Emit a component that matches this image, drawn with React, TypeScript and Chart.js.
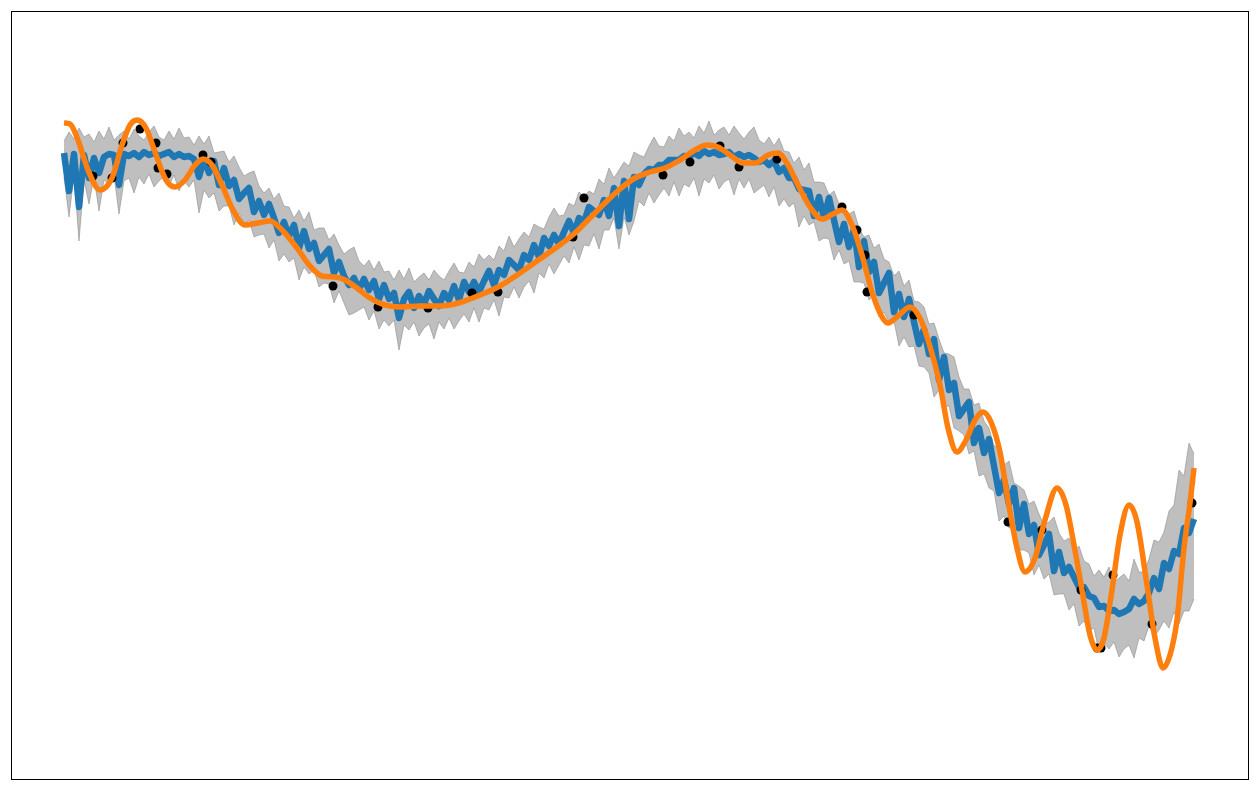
import React, { useEffect, useRef } from "react";
import { Chart, registerables } from "chart.js";

Chart.register(...registerables);

// sample grid of the posterior mean / band
const gridStart = 0;
const gridStep = 0.05;

const meanY = [
  2.47, 2.09, 2.46, 1.93, 2.45, 2.22, 2.42, 2.27, 2.43, 2.46,
  2.45, 2.15, 2.46, 2.44, 2.47, 2.43, 2.48, 2.45, 2.47, 2.44,
  2.46, 2.48, 2.43, 2.46, 2.43, 2.44, 2.41, 2.23, 2.41, 2.27,
  2.39, 2.15, 2.32, 2.14, 2.20, 2.01, 2.07, 2.12, 1.88, 1.99,
  1.85, 1.96, 1.82, 1.67, 1.78, 1.64, 1.75, 1.52, 1.69, 1.51,
  1.57, 1.39, 1.45, 1.51, 1.27, 1.38, 1.24, 1.15, 1.22, 1.11,
  1.21, 1.10, 1.19, 1.01, 1.15, 1.01, 1.07, 0.82, 1.01, 1.08,
  0.92, 1.04, 0.96, 1.09, 1.01, 0.94, 1.07, 1.00, 1.14, 1.00,
  1.18, 1.08, 1.18, 1.08, 1.19, 1.29, 1.15, 1.30, 1.25, 1.40,
  1.35, 1.30, 1.45, 1.40, 1.55, 1.43, 1.62, 1.54, 1.65, 1.56,
  1.68, 1.79, 1.67, 1.82, 1.78, 1.93, 1.89, 1.85, 2.00, 1.84,
  2.12, 1.74, 2.19, 1.81, 2.23, 2.15, 2.26, 2.31, 2.30, 2.35,
  2.35, 2.40, 2.40, 2.40, 2.44, 2.43, 2.47, 2.44, 2.49, 2.46,
  2.48, 2.45, 2.46, 2.48, 2.43, 2.46, 2.43, 2.45, 2.42, 2.38,
  2.40, 2.35, 2.39, 2.28, 2.32, 2.22, 2.22, 2.11, 2.10, 2.09,
  1.84, 2.03, 1.82, 2.02, 1.80, 1.58, 1.76, 1.53, 1.71, 1.33,
  1.59, 1.28, 1.38, 1.07, 1.17, 1.27, 0.88, 1.06, 0.83, 1.01,
  0.78, 0.56, 0.71, 0.46, 0.61, 0.20, 0.43, 0.10, 0.17, -0.16,
  -0.09, -0.02, -0.43, -0.28, -0.53, -0.39, -0.66, -0.93, -0.80, -1.04,
  -0.88, -1.28, -1.04, -1.34, -1.25, -1.55, -1.45, -1.34, -1.71, -1.52,
  -1.73, -1.67, -1.77, -1.87, -1.87, -1.96, -1.98, -2.07, -2.06, -2.11,
  -2.10, -2.14, -2.12, -2.09, -1.99, -2.04, -2.01, -1.93, -1.78, -1.89,
  -1.63, -1.69, -1.51, -1.54, -1.28, -1.33, -1.19,
];

const bandUpper = [
  2.59, 2.68, 2.61, 2.72, 2.63, 2.66, 2.58, 2.69, 2.61, 2.73,
  2.60, 2.65, 2.69, 2.61, 2.71, 2.64, 2.60, 2.68, 2.74, 2.63,
  2.60, 2.69, 2.61, 2.72, 2.62, 2.63, 2.55, 2.64, 2.56, 2.64,
  2.47, 2.48, 2.49, 2.38, 2.44, 2.33, 2.24, 2.27, 2.29, 2.14,
  2.07, 2.12, 2.01, 2.07, 1.94, 1.93, 1.82, 1.90, 1.79, 1.88,
  1.70, 1.72, 1.72, 1.60, 1.66, 1.55, 1.46, 1.50, 1.53, 1.39,
  1.34, 1.40, 1.30, 1.39, 1.28, 1.29, 1.20, 1.30, 1.21, 1.32,
  1.18, 1.23, 1.27, 1.20, 1.30, 1.24, 1.20, 1.29, 1.37, 1.28,
  1.27, 1.38, 1.33, 1.46, 1.40, 1.45, 1.40, 1.54, 1.49, 1.64,
  1.53, 1.61, 1.68, 1.63, 1.76, 1.73, 1.71, 1.83, 1.92, 1.84,
  1.85, 1.97, 1.94, 2.08, 2.03, 2.09, 2.06, 2.21, 2.16, 2.32,
  2.22, 2.30, 2.38, 2.34, 2.48, 2.45, 2.43, 2.54, 2.63, 2.54,
  2.53, 2.64, 2.59, 2.72, 2.64, 2.68, 2.62, 2.74, 2.67, 2.79,
  2.65, 2.70, 2.73, 2.65, 2.74, 2.67, 2.61, 2.68, 2.73, 2.60,
  2.56, 2.63, 2.54, 2.62, 2.49, 2.48, 2.37, 2.43, 2.30, 2.37,
  2.18, 2.18, 2.17, 2.05, 2.09, 1.96, 1.85, 1.86, 1.89, 1.72,
  1.63, 1.65, 1.52, 1.56, 1.41, 1.38, 1.24, 1.29, 1.14, 1.20,
  0.99, 0.98, 0.93, 0.76, 0.77, 0.61, 0.47, 0.46, 0.43, 0.23,
  0.11, 0.11, -0.05, -0.03, -0.21, -0.28, -0.46, -0.46, -0.65, -0.61,
  -0.83, -0.86, -0.90, -1.04, -1.01, -1.14, -1.25, -1.22, -1.17, -1.33,
  -1.41, -1.38, -1.51, -1.46, -1.61, -1.64, -1.76, -1.70, -1.77, -1.67,
  -1.82, -1.78, -1.74, -1.81, -1.59, -1.72, -1.72, -1.59, -1.40, -1.42,
  -1.32, -1.11, -1.05, -0.70, -0.76, -0.43, -0.54,
];

const bandLower = [
  2.23, 1.83, 2.25, 1.59, 2.20, 1.96, 2.23, 1.89, 2.20, 2.16,
  2.25, 1.86, 2.19, 2.22, 2.07, 2.23, 2.16, 2.26, 2.13, 2.19,
  2.24, 2.14, 2.25, 2.09, 2.19, 2.13, 2.20, 1.87, 2.10, 2.02,
  2.07, 1.89, 1.94, 1.94, 1.75, 1.87, 1.75, 1.80, 1.63, 1.65,
  1.66, 1.52, 1.60, 1.39, 1.46, 1.38, 1.42, 1.20, 1.33, 1.26,
  1.30, 1.13, 1.17, 1.16, 0.97, 1.09, 0.97, 0.85, 0.87, 0.90,
  0.93, 0.80, 0.89, 0.71, 0.80, 0.74, 0.80, 0.50, 0.75, 0.70,
  0.78, 0.64, 0.72, 0.76, 0.61, 0.78, 0.71, 0.82, 0.71, 0.79,
  0.86, 0.78, 0.92, 0.78, 0.92, 0.90, 1.00, 0.84, 1.03, 1.02,
  1.13, 1.02, 1.13, 1.19, 1.07, 1.27, 1.22, 1.36, 1.26, 1.35,
  1.44, 1.37, 1.53, 1.40, 1.55, 1.54, 1.66, 1.51, 1.70, 1.70,
  1.82, 1.51, 1.83, 1.65, 1.79, 1.99, 1.94, 2.07, 1.97, 2.05,
  2.12, 2.04, 2.18, 2.04, 2.16, 2.13, 2.22, 2.04, 2.21, 2.17,
  2.25, 2.11, 2.18, 2.21, 2.05, 2.21, 2.12, 2.21, 2.07, 2.11,
  2.15, 2.03, 2.13, 1.94, 2.01, 1.93, 1.97, 1.73, 1.84, 1.75,
  1.78, 1.59, 1.62, 1.61, 1.40, 1.50, 1.36, 1.39, 1.18, 1.18,
  1.17, 1.00, 1.06, 0.83, 0.88, 0.78, 0.79, 0.54, 0.63, 0.53,
  0.54, 0.34, 0.33, 0.27, 0.03, 0.10, -0.07, -0.06, -0.28, -0.31,
  -0.35, -0.54, -0.51, -0.76, -0.74, -0.88, -0.91, -1.21, -1.16, -1.28,
  -1.28, -1.50, -1.50, -1.53, -1.75, -1.65, -1.79, -1.74, -1.95, -1.94,
  -1.94, -2.10, -2.04, -2.26, -2.21, -2.31, -2.28, -2.52, -2.43, -2.49,
  -2.42, -2.57, -2.49, -2.45, -2.58, -2.38, -2.41, -2.26, -2.37, -2.30,
  -2.21, -2.28, -2.12, -2.24, -2.11, -2.11, -1.99,
];

// smooth fitted curve (x, y)
const fitCurve: [number, number][] = [
  [0, 2.77], [0.06, 2.76], [0.14, 2.6], [0.24, 2.3], [0.36, 2.1], [0.48, 2.22],
  [0.58, 2.55], [0.66, 2.75], [0.73, 2.8], [0.82, 2.72], [0.92, 2.45], [1.02, 2.2],
  [1.11, 2.13], [1.21, 2.2], [1.31, 2.35], [1.39, 2.41], [1.48, 2.35], [1.58, 2.15],
  [1.68, 1.92], [1.81, 1.75], [1.94, 1.77], [2.06, 1.79], [2.18, 1.7], [2.33, 1.52],
  [2.46, 1.34], [2.58, 1.24], [2.71, 1.23], [2.81, 1.2], [2.93, 1.12], [3.06, 1.02],
  [3.21, 0.95], [3.36, 0.93], [3.56, 0.94], [3.76, 0.94], [3.91, 0.96], [4.06, 1.01],
  [4.21, 1.07], [4.36, 1.14], [4.53, 1.25], [4.73, 1.39], [4.93, 1.53], [5.11, 1.67],
  [5.26, 1.82], [5.41, 1.97], [5.56, 2.11], [5.71, 2.22], [5.86, 2.28], [6.01, 2.32],
  [6.16, 2.4], [6.31, 2.5], [6.43, 2.55], [6.54, 2.53], [6.66, 2.45], [6.79, 2.37],
  [6.91, 2.37], [7.04, 2.45], [7.14, 2.47], [7.24, 2.35], [7.34, 2.15], [7.46, 1.93],
  [7.58, 1.81], [7.69, 1.86], [7.78, 1.9], [7.88, 1.75], [7.98, 1.45], [8.08, 1.08],
  [8.16, 0.87], [8.24, 0.77], [8.34, 0.84], [8.46, 0.93], [8.56, 0.82], [8.64, 0.6],
  [8.76, 0.15], [8.84, -0.28], [8.93, -0.52], [9.02, -0.4], [9.11, -0.2], [9.19, -0.12],
  [9.27, -0.22], [9.36, -0.52], [9.44, -1.0], [9.53, -1.48], [9.61, -1.72], [9.71, -1.58],
  [9.81, -1.2], [9.93, -0.88], [10.02, -1.05], [10.1, -1.45], [10.18, -1.9], [10.26, -2.35],
  [10.33, -2.5], [10.4, -2.38], [10.48, -1.9], [10.56, -1.35], [10.65, -1.05], [10.73, -1.22],
  [10.83, -1.85], [10.91, -2.38], [10.99, -2.68], [11.06, -2.55], [11.13, -2.2], [11.2, -1.48],
  [11.26, -1.03], [11.3, -0.68],
];

// observed points (x, y)
const observations: [number, number][] = [
  [0.29, 2.24], [0.48, 2.22], [0.59, 2.57], [0.76, 2.71], [0.92, 2.57], [0.94, 2.32],
  [1.03, 2.26], [1.39, 2.45], [1.47, 2.38], [2.69, 1.14], [3.14, 0.93], [3.64, 0.92],
  [4.08, 1.07], [4.34, 1.08], [5.09, 1.63], [5.2, 2.02], [5.99, 2.25], [6.26, 2.38],
  [6.56, 2.54], [6.75, 2.33], [7.13, 2.41], [7.78, 1.93], [7.93, 1.7], [8.01, 1.45],
  [8.03, 1.08], [8.5, 0.85], [9.44, -1.22], [9.78, -1.3], [10.17, -1.9], [10.49, -1.75],
  [10.33, -2.48], [10.37, -2.48], [10.88, -2.24], [11.28, -1.03],
];

const xMin = -0.53;
const xMax = 11.84;
const yMin = -3.79;
const yMax = 3.89;

const framePlugin = {
  id: "frame",
  afterDraw(chart: any) {
    const { ctx, chartArea } = chart;
    const { left, top, right, bottom } = chartArea;
    ctx.save();
    ctx.strokeStyle = "#000000";
    ctx.lineWidth = 1;
    ctx.strokeRect(left + 0.5, top + 0.5, right - left, bottom - top);
    ctx.restore();
  },
};

export default function App() {
  const canvasRef = useRef<HTMLCanvasElement | null>(null);

  useEffect(() => {
    const canvas = canvasRef.current;
    if (!canvas) return;
    const n = Math.min(meanY.length, bandUpper.length, bandLower.length);
    const xs: number[] = [];
    for (let i = 0; i < n; i++) xs.push(+(gridStart + i * gridStep).toFixed(4));

    const chart = new Chart(canvas, {
      type: "line",
      data: {
        datasets: [
          {
            label: "upper",
            data: xs.map((x, i) => ({ x, y: bandUpper[i] })),
            borderColor: "rgba(128,128,128,0.5)",
            backgroundColor: "rgba(128,128,128,0.5)",
            borderWidth: 1,
            pointRadius: 0,
            tension: 0,
            fill: "+1",
            order: 5,
          },
          {
            label: "lower",
            data: xs.map((x, i) => ({ x, y: bandLower[i] })),
            borderColor: "rgba(128,128,128,0.5)",
            backgroundColor: "rgba(128,128,128,0.5)",
            borderWidth: 1,
            pointRadius: 0,
            tension: 0,
            fill: false,
            order: 4,
          },
          {
            label: "mean",
            data: xs.map((x, i) => ({ x, y: meanY[i] })),
            borderColor: "#1f77b4",
            borderWidth: 6.5,
            borderJoinStyle: "round",
            borderCapStyle: "butt",
            pointRadius: 0,
            tension: 0,
            fill: false,
            order: 3,
          },
          {
            type: "scatter",
            label: "obs",
            data: observations.map(([x, y]) => ({ x, y })),
            backgroundColor: "#000000",
            borderWidth: 0,
            pointRadius: 4.5,
            showLine: false,
            order: 2,
          } as any,
          {
            label: "fit",
            data: fitCurve.map(([x, y]) => ({ x, y })),
            borderColor: "#ff7f0e",
            borderWidth: 5.5,
            borderJoinStyle: "round",
            borderCapStyle: "butt",
            pointRadius: 0,
            cubicInterpolationMode: "monotone",
            fill: false,
            order: 1,
          },
        ],
      },
      options: {
        animation: false,
        responsive: false,
        devicePixelRatio: 1,
        events: [],
        layout: { padding: { left: 11, top: 11, right: 12, bottom: 11 } },
        plugins: {
          legend: { display: false },
          tooltip: { enabled: false },
        },
        scales: {
          x: { type: "linear", min: xMin, max: xMax, display: false },
          y: { type: "linear", min: yMin, max: yMax, display: false },
        },
      },
      plugins: [framePlugin],
    });

    return () => chart.destroy();
  }, []);

  return (
    <div style={{ position: "fixed", left: 0, top: 0, width: 1260, height: 790, background: "#ffffff" }}>
      <canvas ref={canvasRef} width={1260} height={790} />
    </div>
  );
}
